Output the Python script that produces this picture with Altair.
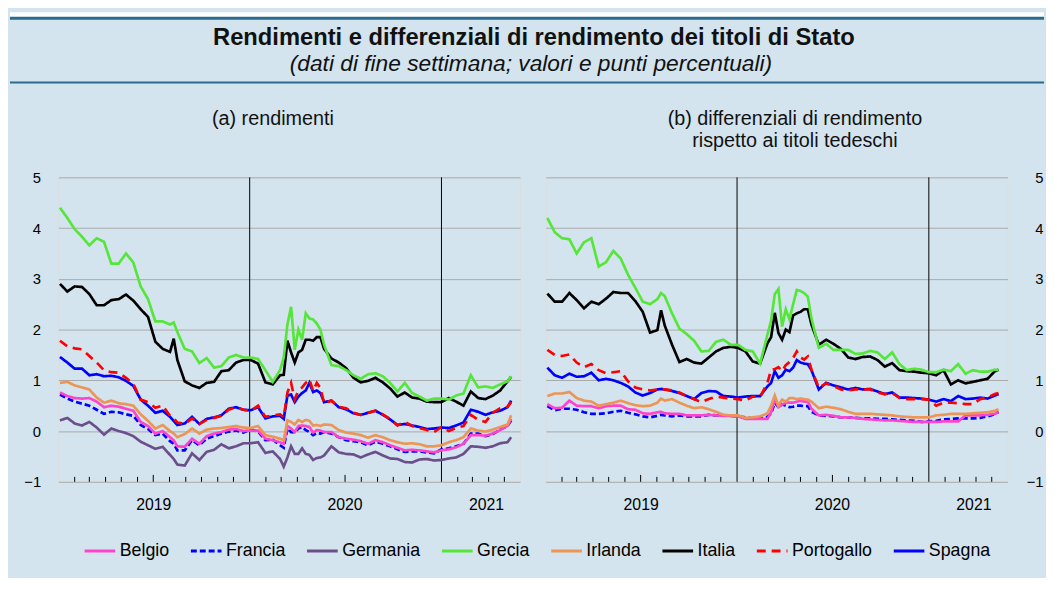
import altair as alt
import pandas as pd

# ---------------- data ----------------
DATES = [
    "2019-01-04", "2019-01-18", "2019-02-01", "2019-02-15", "2019-03-01", "2019-03-15", "2019-03-29", "2019-04-12",
    "2019-04-26", "2019-05-10", "2019-05-24", "2019-06-07", "2019-06-21", "2019-07-05", "2019-07-19", "2019-08-02",
    "2019-08-09",
    "2019-08-16", "2019-08-30", "2019-09-13", "2019-09-27", "2019-10-11", "2019-10-25", "2019-11-08", "2019-11-22",
    "2019-12-06", "2019-12-20", "2020-01-03", "2020-01-17", "2020-01-31", "2020-02-14", "2020-02-28",
    "2020-03-06", "2020-03-13", "2020-03-20", "2020-03-27", "2020-04-03", "2020-04-10", "2020-04-17", "2020-04-24",
    "2020-05-01", "2020-05-08", "2020-05-15", "2020-05-22",
    "2020-06-05", "2020-06-19", "2020-07-03", "2020-07-17", "2020-07-31", "2020-08-14", "2020-08-28", "2020-09-11",
    "2020-09-25", "2020-10-09", "2020-10-23", "2020-11-06", "2020-11-20", "2020-12-04", "2020-12-18", "2021-01-01",
    "2021-01-15", "2021-01-29", "2021-02-12", "2021-02-26", "2021-03-12", "2021-03-26", "2021-04-09", "2021-04-23",
    "2021-05-07", "2021-05-14",
]

SERIES = ["Belgio", "Francia", "Germania", "Grecia", "Irlanda", "Italia", "Portogallo", "Spagna"]
COLORS = ["#ff44cc", "#0000ff", "#6b4f8b", "#55e639", "#ec9555", "#000000", "#ff0000", "#0000ff"]
DASHES = [[1, 0], [6, 3], [1, 0], [1, 0], [1, 0], [1, 0], [9, 6], [1, 0]]

# (a) yields
Y_BELGIO = [0.76, 0.69, 0.65, 0.64, 0.65, 0.58, 0.47, 0.50, 0.48, 0.44, 0.40, 0.18, 0.10, -0.05, 0.00, -0.12,
            -0.18,
            -0.30, -0.31, -0.15, -0.25, -0.10, -0.05, -0.02, 0.03, 0.04, 0.00, 0.01, 0.01, -0.15, -0.18, -0.22,
            -0.25, 0.10, 0.05, -0.02, 0.10, 0.11, 0.10, 0.08, -0.03, 0.02, 0.01, -0.02,
            -0.02, -0.12, -0.15, -0.17, -0.20, -0.25, -0.18, -0.22, -0.28, -0.33, -0.38, -0.37, -0.38, -0.40, -0.42,
            -0.38, -0.36, -0.32, -0.25, -0.08, -0.08, -0.09, -0.05, 0.02, 0.10,
            0.24]
Y_FRANCIA = [0.72, 0.64, 0.58, 0.54, 0.50, 0.42, 0.34, 0.38, 0.37, 0.33, 0.30, 0.12, 0.04, -0.08, -0.05, -0.20,
             -0.25,
             -0.38, -0.38, -0.18, -0.28, -0.15, -0.10, -0.05, -0.01, 0.01, -0.03, 0.03, -0.01, -0.18, -0.17, -0.28,
             -0.33, 0.05, -0.02, -0.02, 0.05, 0.08, 0.02, -0.02, -0.08, -0.04, -0.05, -0.02,
             -0.05, -0.12, -0.18, -0.20, -0.22, -0.28, -0.21, -0.25, -0.30, -0.36, -0.41, -0.40, -0.40, -0.42, -0.44,
             -0.36, -0.34, -0.30, -0.25, -0.05, -0.05, -0.10, -0.06, 0.03, 0.10,
             0.21]
Y_GERMANIA = [0.21, 0.26, 0.15, 0.11, 0.18, 0.07, -0.07, 0.05, 0.00, -0.04, -0.10, -0.21, -0.28, -0.35, -0.31, -0.47,
              -0.55,
              -0.66, -0.68, -0.44, -0.57, -0.41, -0.37, -0.26, -0.34, -0.30, -0.24, -0.24, -0.22, -0.43, -0.40, -0.55,
              -0.70, -0.52, -0.30, -0.45, -0.45, -0.34, -0.45, -0.47, -0.57, -0.53, -0.52, -0.48,
              -0.30, -0.42, -0.45, -0.46, -0.52, -0.46, -0.41, -0.48, -0.54, -0.55, -0.61, -0.62, -0.56, -0.55, -0.58,
              -0.57, -0.54, -0.52, -0.45, -0.30, -0.31, -0.33, -0.30, -0.24, -0.22,
              -0.12]
Y_GRECIA = [4.40, 4.20, 3.98, 3.83, 3.66, 3.80, 3.73, 3.30, 3.30, 3.50, 3.32, 2.85, 2.60, 2.16, 2.16, 2.10,
            2.14,
            1.95, 1.62, 1.57, 1.34, 1.44, 1.25, 1.28, 1.45, 1.50, 1.45, 1.45, 1.42, 1.20, 0.97, 1.20,
            1.45, 2.10, 2.45, 1.60, 2.00, 1.80, 2.32, 2.22, 2.20, 2.12, 2.00, 1.70,
            1.30, 1.28, 1.20, 1.10, 1.03, 1.12, 1.14, 1.08, 0.95, 0.78, 0.95, 0.75, 0.68, 0.60, 0.64,
            0.64, 0.62, 0.70, 0.74, 1.10, 0.86, 0.88, 0.85, 0.92, 0.98,
            1.08]
Y_IRLANDA = [0.95, 0.97, 0.90, 0.86, 0.82, 0.66, 0.56, 0.60, 0.55, 0.53, 0.50, 0.33, 0.20, 0.05, 0.12, 0.00,
             -0.05,
             -0.12, -0.06, 0.05, -0.05, 0.03, 0.05, 0.06, 0.08, 0.10, 0.07, 0.06, 0.10, -0.08, -0.11, -0.15,
             -0.18, 0.21, 0.18, 0.13, 0.22, 0.18, 0.22, 0.20, 0.11, 0.12, 0.10, 0.13,
             0.12, 0.02, -0.03, -0.05, -0.08, -0.13, -0.08, -0.12, -0.18, -0.22, -0.25, -0.24, -0.26, -0.30, -0.30,
             -0.28, -0.22, -0.18, -0.12, 0.05, 0.01, -0.01, 0.03, 0.08, 0.13,
             0.31]
Y_ITALIA = [2.90, 2.75, 2.85, 2.84, 2.70, 2.48, 2.48, 2.58, 2.60, 2.69, 2.57, 2.40, 2.25, 1.76, 1.62, 1.56,
            1.82,
            1.40, 0.98, 0.90, 0.85, 0.95, 0.97, 1.18, 1.20, 1.35, 1.40, 1.40, 1.33, 0.96, 0.92, 1.10,
            1.11, 1.78, 1.55, 1.35, 1.55, 1.60, 1.80, 1.80, 1.78, 1.85, 1.85, 1.62,
            1.43, 1.35, 1.24, 1.05, 0.96, 0.99, 1.05, 0.96, 0.84, 0.68, 0.76, 0.66, 0.64, 0.58, 0.57,
            0.57, 0.65, 0.58, 0.50, 0.78, 0.65, 0.63, 0.70, 0.80, 0.98,
            1.07]
Y_PORTOGALLO = [1.78, 1.67, 1.63, 1.61, 1.48, 1.35, 1.20, 1.16, 1.15, 1.05, 0.93, 0.62, 0.57, 0.46, 0.50, 0.30,
                0.25,
                0.17, 0.14, 0.25, 0.14, 0.22, 0.26, 0.30, 0.42, 0.47, 0.42, 0.40, 0.50, 0.28, 0.31, 0.33,
                0.27, 0.76, 0.95, 0.63, 0.80, 0.86, 0.95, 1.02, 0.79, 0.95, 0.85, 0.55,
                0.60, 0.48, 0.45, 0.36, 0.32, 0.36, 0.40, 0.33, 0.24, 0.11, 0.18, 0.10, 0.06, 0.02, -0.02,
                0.08, 0.00, 0.06, 0.10, 0.32, 0.22, 0.18, 0.36, 0.45, 0.48,
                0.57]
Y_SPAGNA = [1.46, 1.35, 1.23, 1.23, 1.10, 1.12, 1.08, 1.09, 1.06, 0.99, 0.89, 0.62, 0.50, 0.36, 0.40, 0.28,
            0.20,
            0.12, 0.15, 0.28, 0.14, 0.24, 0.27, 0.31, 0.44, 0.47, 0.42, 0.41, 0.47, 0.25, 0.29, 0.30,
            0.24, 0.70, 0.72, 0.57, 0.68, 0.75, 0.80, 0.95, 0.77, 0.80, 0.75, 0.57,
            0.60, 0.47, 0.43, 0.35, 0.32, 0.36, 0.40, 0.32, 0.23, 0.12, 0.14, 0.11, 0.08, 0.04, 0.05,
            0.07, 0.06, 0.11, 0.17, 0.42, 0.38, 0.32, 0.37, 0.40, 0.47,
            0.60]

# (b) spreads vs German bunds
S_BELGIO = [0.53, 0.45, 0.46, 0.60, 0.50, 0.49, 0.49, 0.45, 0.49, 0.50, 0.50, 0.43, 0.42, 0.35, 0.34, 0.37,
            0.38,
            0.35, 0.34, 0.34, 0.31, 0.31, 0.31, 0.32, 0.31, 0.30, 0.30, 0.29, 0.24, 0.24, 0.24, 0.24,
            0.37, 0.63, 0.47, 0.52, 0.56, 0.56, 0.56, 0.58, 0.60, 0.58, 0.58, 0.44,
            0.31, 0.32, 0.30, 0.27, 0.27, 0.26, 0.24, 0.23, 0.22, 0.21, 0.21, 0.20, 0.19, 0.18, 0.18,
            0.18, 0.18, 0.19, 0.19, 0.19, 0.31, 0.31, 0.31, 0.32, 0.34,
            0.37]
S_FRANCIA = [0.49, 0.41, 0.44, 0.44, 0.42, 0.37, 0.34, 0.34, 0.35, 0.38, 0.40, 0.36, 0.33, 0.29, 0.27, 0.30,
             0.32,
             0.31, 0.29, 0.31, 0.29, 0.29, 0.29, 0.32, 0.31, 0.31, 0.30, 0.29, 0.27, 0.25, 0.25, 0.28,
             0.34, 0.56, 0.47, 0.53, 0.50, 0.47, 0.48, 0.50, 0.50, 0.49, 0.49, 0.38,
             0.31, 0.30, 0.29, 0.27, 0.27, 0.26, 0.25, 0.25, 0.24, 0.24, 0.23, 0.22, 0.21, 0.20, 0.18,
             0.19, 0.20, 0.23, 0.24, 0.25, 0.25, 0.25, 0.26, 0.29, 0.33,
             0.38]
S_GRECIA = [4.20, 3.92, 3.80, 3.78, 3.50, 3.72, 3.80, 3.24, 3.33, 3.55, 3.40, 3.08, 2.82, 2.55, 2.50, 2.60,
            2.72,
            2.66, 2.32, 2.02, 1.91, 1.78, 1.57, 1.58, 1.76, 1.80, 1.70, 1.70, 1.60, 1.57, 1.33, 1.90,
            2.18, 2.70, 2.80, 2.06, 2.40, 2.20, 2.50, 2.78, 2.76, 2.72, 2.65, 2.22,
            1.64, 1.72, 1.60, 1.60, 1.60, 1.52, 1.53, 1.58, 1.55, 1.42, 1.55, 1.32, 1.20, 1.23, 1.21,
            1.16, 1.16, 1.21, 1.18, 1.32, 1.13, 1.20, 1.17, 1.17, 1.21,
            1.20]
S_IRLANDA = [0.69, 0.74, 0.74, 0.77, 0.65, 0.60, 0.58, 0.50, 0.53, 0.56, 0.60, 0.55, 0.51, 0.49, 0.50, 0.56,
             0.64,
             0.60, 0.63, 0.56, 0.50, 0.45, 0.47, 0.43, 0.38, 0.32, 0.31, 0.31, 0.26, 0.27, 0.29, 0.35,
             0.50, 0.70, 0.50, 0.62, 0.58, 0.65, 0.65, 0.63, 0.64, 0.63, 0.62, 0.58,
             0.45, 0.48, 0.46, 0.43, 0.38, 0.34, 0.34, 0.34, 0.33, 0.32, 0.31, 0.29, 0.28, 0.27, 0.27,
             0.27, 0.31, 0.32, 0.34, 0.34, 0.34, 0.35, 0.36, 0.37, 0.40,
             0.43]
S_ITALIA = [2.71, 2.55, 2.55, 2.72, 2.58, 2.42, 2.55, 2.50, 2.61, 2.74, 2.72, 2.72, 2.56, 2.35, 1.94, 1.99,
            2.38,
            2.08, 1.70, 1.36, 1.42, 1.35, 1.33, 1.45, 1.57, 1.64, 1.66, 1.64, 1.57, 1.37, 1.33, 1.73,
            1.85, 2.33, 1.93, 1.80, 2.00, 1.95, 2.28, 2.32, 2.35, 2.40, 2.40, 2.10,
            1.70, 1.80, 1.72, 1.62, 1.45, 1.42, 1.46, 1.47, 1.40, 1.27, 1.34, 1.20, 1.18, 1.17, 1.15,
            1.14, 1.10, 1.20, 0.92, 1.00, 0.94, 0.97, 1.00, 1.03, 1.18,
            1.21]
S_PORTOGALLO = [1.60, 1.50, 1.48, 1.51, 1.35, 1.26, 1.32, 1.20, 1.14, 1.16, 1.18, 0.98, 0.86, 0.82, 0.80, 0.82,
                0.82,
                0.82, 0.80, 0.76, 0.69, 0.63, 0.57, 0.63, 0.68, 0.66, 0.64, 0.63, 0.60, 0.68, 0.67, 0.95,
                1.21, 1.22, 1.26, 1.18, 1.30, 1.36, 1.44, 1.57, 1.45, 1.41, 1.47, 1.21,
                0.86, 0.94, 0.89, 0.82, 0.80, 0.82, 0.82, 0.82, 0.76, 0.73, 0.75, 0.65, 0.63, 0.63, 0.63,
                0.62, 0.50, 0.56, 0.56, 0.55, 0.53, 0.53, 0.63, 0.66, 0.73,
                0.75]
S_SPAGNA = [1.25, 1.10, 1.05, 1.13, 1.07, 1.08, 1.15, 1.00, 1.03, 1.00, 0.95, 0.88, 0.76, 0.70, 0.75, 0.82,
            0.83,
            0.82, 0.79, 0.75, 0.69, 0.63, 0.75, 0.79, 0.78, 0.69, 0.68, 0.66, 0.68, 0.69, 0.69, 0.88,
            0.95, 1.18, 1.05, 1.10, 1.21, 1.18, 1.25, 1.40, 1.35, 1.33, 1.32, 1.20,
            0.82, 0.95, 0.90, 0.86, 0.82, 0.85, 0.82, 0.83, 0.78, 0.73, 0.76, 0.66, 0.66, 0.65, 0.64,
            0.62, 0.58, 0.63, 0.59, 0.69, 0.63, 0.64, 0.66, 0.64, 0.70,
            0.73]

Y_TICKS = [-1, 0, 1, 2, 3, 4, 5]
YEAR_LINES = ["2020-01-01", "2021-01-01"]
YEAR_LABELS = ["2019", "2020", "2021"]
YEAR_LABEL_DATES = ["2019-07-02", "2020-07-01", "2021-03-28"]
MONTHS = [f"{y}-{m:02d}-01" for y in (2019, 2020, 2021) for m in range(1, 13)
          if (y, m) <= (2021, 5) and m != 1]
MONTH_TICKS = [d for d in MONTHS if not d[5:7] == "07"]
MIDYEAR_TICKS = [d for d in MONTHS if d[5:7] == "07"]

TITLE = "Rendimenti e differenziali di rendimento dei titoli di Stato"
SUBTITLE = "(dati di fine settimana; valori e punti percentuali)"
PANEL_A = "(a) rendimenti"
PANEL_B1 = "(b) differenziali di rendimento"
PANEL_B2 = "rispetto ai titoli tedeschi"

# ---------------- styling ----------------
BG = "#d3e4ee"
DARK = "#2b6b8e"
FONT = "Liberation Sans"
W, H = 467, 308
DRAW_ORDER = ["Germania", "Francia", "Belgio", "Irlanda", "Spagna", "Portogallo", "Italia", "Grecia"]


def long_df(mapping):
    rows = []
    for name in DRAW_ORDER:
        if name not in mapping:
            continue
        vals = mapping[name]
        assert len(vals) == len(DATES), name
        for d, v in zip(DATES, vals):
            rows.append({"date": d, "series": name, "value": v})
    return pd.DataFrame(rows)


left_df = long_df({"Belgio": Y_BELGIO, "Francia": Y_FRANCIA, "Germania": Y_GERMANIA, "Grecia": Y_GRECIA,
                   "Irlanda": Y_IRLANDA, "Italia": Y_ITALIA, "Portogallo": Y_PORTOGALLO, "Spagna": Y_SPAGNA})
right_df = long_df({"Belgio": S_BELGIO, "Francia": S_FRANCIA, "Grecia": S_GRECIA, "Irlanda": S_IRLANDA,
                    "Italia": S_ITALIA, "Portogallo": S_PORTOGALLO, "Spagna": S_SPAGNA})

x_scale = alt.Scale(domain=[alt.DateTime(year=2019, month=1, date=1, utc=True),
                            alt.DateTime(year=2021, month=5, date=31, utc=True)])
y_scale = alt.Scale(domain=[-1, 5], nice=False, zero=False)

legend = alt.Legend(orient="none", legendX=25, legendY=361, direction="horizontal", title=None,
                    symbolType="stroke", symbolSize=961, symbolStrokeWidth=3, labelFontSize=18,
                    labelOffset=3, columnPadding=14.5, labelFont=FONT, labelColor="black", labelLimit=0)

one = pd.DataFrame({"k": [0]})


def lines(df, orient, pad, align):
    return alt.Chart(df).mark_line(strokeWidth=2.7).encode(
        x=alt.X("date:T", scale=x_scale, axis=None),
        y=alt.Y("value:Q", scale=y_scale,
                axis=alt.Axis(orient=orient, values=Y_TICKS, grid=True, ticks=False, domain=False,
                              labelFontSize=15, labelPadding=pad, labelAlign=align, labelColor="black",
                              labelFont=FONT, gridColor="#a9a9a9", gridWidth=1, title=None)),
        color=alt.Color("series:N", scale=alt.Scale(domain=SERIES, range=COLORS), legend=legend),
        strokeDash=alt.StrokeDash("series:N", scale=alt.Scale(domain=SERIES, range=DASHES), legend=legend),
        detail="series:N",
    )


def time_decor():
    yl = alt.Chart(pd.DataFrame({"date": YEAR_LINES})).mark_rule(color="black", strokeWidth=1).encode(
        x=alt.X("date:T", scale=x_scale, axis=None), y=alt.value(0), y2=alt.value(H))
    mt = alt.Chart(pd.DataFrame({"date": MONTH_TICKS})).mark_rule(color="black", strokeWidth=1).encode(
        x=alt.X("date:T", scale=x_scale, axis=None), y=alt.value(H), y2=alt.value(H - 5))
    jt = alt.Chart(pd.DataFrame({"date": MIDYEAR_TICKS})).mark_rule(color="black", strokeWidth=1).encode(
        x=alt.X("date:T", scale=x_scale, axis=None), y=alt.value(H), y2=alt.value(H - 7))
    lab = alt.Chart(pd.DataFrame({"date": YEAR_LABEL_DATES, "label": YEAR_LABELS})).mark_text(
        fontSize=16, font=FONT, color="black", baseline="middle", align="center").encode(
        x=alt.X("date:T", scale=x_scale, axis=None), y=alt.value(H + 24), text="label:N")
    return [yl, mt, jt, lab]


def txt(s, x, y, size, weight="normal", style="normal"):
    return alt.Chart(one).mark_text(text=s, fontSize=size, font=FONT, fontWeight=weight, fontStyle=style,
                                    color="#111111", align="center", baseline="middle").encode(
        x=alt.value(x), y=alt.value(y))


def rect(x, x2, y, y2, color):
    return alt.Chart(one).mark_rect(color=color).encode(
        x=alt.value(x), x2=alt.value(x2), y=alt.value(y), y2=alt.value(y2))


def hrule(x, x2, y, width, color):
    return alt.Chart(one).mark_rule(color=color, strokeWidth=width).encode(
        x=alt.value(x), x2=alt.value(x2), y=alt.value(y))


header = [
    rect(-49, 997, -167, -162, "white"),
    hrule(-49, 997, -161, 3, DARK),
    txt(TITLE, 481, -141, 24, weight="bold"),
    txt(SUBTITLE, 478, -115, 23, style="italic"),
    hrule(-49, 997, -96, 2, DARK),
    txt(PANEL_A, 217, -59, 20),
    rect(0, 1, 400, 401, BG),
]

left = alt.layer(*header, *time_decor(), lines(left_df, "left", 18, "right")).properties(width=W, height=H)
right = alt.layer(
    txt(PANEL_B1, 252, -59, 20), txt(PANEL_B2, 252, -37, 20),
    *time_decor(), lines(right_df, "right", 36, "right")).properties(width=W, height=H)

chart = alt.hconcat(left, right, spacing=26, bounds="flush").resolve_scale(
    color="shared", strokeDash="shared").resolve_legend(color="shared", strokeDash="shared").properties(
    padding=0, background=BG).configure_view(fill="white", stroke="black", strokeWidth=1.5).configure(
    font=FONT)

chart.save("out.html", embed_options={"renderer": "svg", "actions": False})
